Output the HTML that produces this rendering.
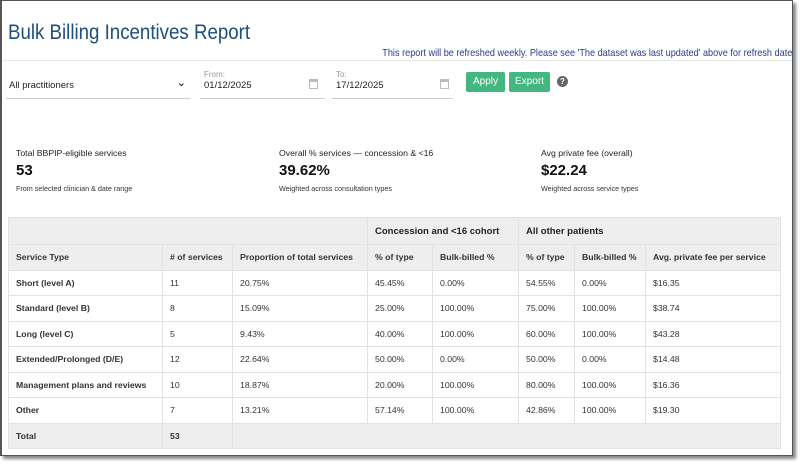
<!DOCTYPE html>
<html><head><meta charset="utf-8"><style>
body{margin:0;width:800px;height:464px;background:#fff;font-family:"Liberation Sans",sans-serif;position:relative;overflow:hidden}
.frame{position:absolute;left:0;top:0;width:790px;height:454px;border:1px solid #555;border-left:2px solid #555;box-shadow:3px 3px 3px #888;background:#fff}
.abs{position:absolute;white-space:nowrap}
h1{position:absolute;left:8px;top:21px;margin:0;font-weight:normal;font-size:21px;color:#1c4f7c;transform:scaleX(0.89);transform-origin:left}
.note{right:8px;top:47px;font-size:10.5px;color:#2b3a8a;transform:scaleX(0.87);transform-origin:right}
.hr{position:absolute;left:2px;top:60px;width:790px;height:1px;background:#e6e6e6}
.field{position:absolute;border-bottom:1px solid #ccc;height:28px}
.lbl{font-size:8px;color:#999}
.btn{position:absolute;top:72px;height:20px;background:#43b77f;color:#fff;font-size:10px;line-height:20px;text-align:center;border-radius:2px}
.cal{position:absolute;width:9px;height:10px;border:1px solid #bbb;border-top:3px solid #bbb;box-sizing:border-box}
table{position:absolute;left:8px;top:217px;border-collapse:collapse;font-size:8.7px;color:#333;table-layout:fixed}
td{border:1px solid #e2e2e2;padding:0 0 0 7px;height:24.5px;white-space:nowrap}
tr.g td{background:#eeeeee}
td.b{font-weight:bold}
.s1{font-size:8.7px;color:#222}.s2{font-size:15px;font-weight:bold;color:#111}.s3{font-size:7.2px;color:#333}
</style></head><body>
<div class="frame"></div>
<h1>Bulk Billing Incentives Report</h1>
<div class="abs note">This report will be refreshed weekly. Please see 'The dataset was last updated' above for refresh date</div>
<div class="hr"></div>
<div class="field" style="left:6px;top:70px;width:184px"><div class="abs" style="left:3px;top:10px;font-size:9.5px;color:#222">All practitioners</div><div class="abs" style="right:4px;top:6px;font-size:11px">&#8964;</div></div>
<div class="field" style="left:200px;top:70px;width:125px"><div class="abs lbl" style="left:4px;top:0">From:</div><div class="abs" style="left:4px;top:10px;font-size:9.5px;color:#222">01/12/2025</div><div class="cal" style="left:109px;top:9px"></div></div>
<div class="field" style="left:332px;top:70px;width:121px"><div class="abs lbl" style="left:4px;top:0">To:</div><div class="abs" style="left:4px;top:10px;font-size:9.5px;color:#222">17/12/2025</div><div class="cal" style="left:108px;top:9px"></div></div>
<div class="btn" style="left:466px;width:39px">Apply</div>
<div class="btn" style="left:509px;width:41px">Export</div>
<div class="abs" style="left:557px;top:76px;width:11px;height:11px;border-radius:50%;background:#666;color:#fff;font-size:8px;text-align:center;line-height:11px;font-weight:bold">?</div>
<div class="abs" style="left:16px;top:148px"><div class="s1">Total BBPIP-eligible services</div><div class="s2" style="margin-top:4px">53</div><div class="s3" style="margin-top:5px">From selected clinician &amp; date range</div></div>
<div class="abs" style="left:279px;top:148px"><div class="s1">Overall % services — concession &amp; &lt;16</div><div class="s2" style="margin-top:4px">39.62%</div><div class="s3" style="margin-top:5px">Weighted across consultation types</div></div>
<div class="abs" style="left:541px;top:148px"><div class="s1">Avg private fee (overall)</div><div class="s2" style="margin-top:4px">$22.24</div><div class="s3" style="margin-top:5px">Weighted across service types</div></div>
<table>
<colgroup><col style="width:154px"><col style="width:70px"><col style="width:135px"><col style="width:65px"><col style="width:86px"><col style="width:56px"><col style="width:71px"><col style="width:135px"></colgroup>
<tr class="g"><td colspan="3" style="height:26px"></td><td colspan="2" class="b" style="font-size:9.5px;color:#222">Concession and &lt;16 cohort</td><td colspan="3" class="b" style="font-size:9.5px;color:#222">All other patients</td></tr>
<tr class="g"><td class="b">Service Type</td><td class="b"># of services</td><td class="b">Proportion of total services</td><td class="b">% of type</td><td class="b">Bulk-billed %</td><td class="b">% of type</td><td class="b">Bulk-billed %</td><td class="b">Avg. private fee per service</td></tr>
<tr><td class="b">Short (level A)</td><td>11</td><td>20.75%</td><td>45.45%</td><td>0.00%</td><td>54.55%</td><td>0.00%</td><td>$16.35</td></tr>
<tr><td class="b">Standard (level B)</td><td>8</td><td>15.09%</td><td>25.00%</td><td>100.00%</td><td>75.00%</td><td>100.00%</td><td>$38.74</td></tr>
<tr><td class="b">Long (level C)</td><td>5</td><td>9.43%</td><td>40.00%</td><td>100.00%</td><td>60.00%</td><td>100.00%</td><td>$43.28</td></tr>
<tr><td class="b">Extended/Prolonged (D/E)</td><td>12</td><td>22.64%</td><td>50.00%</td><td>0.00%</td><td>50.00%</td><td>0.00%</td><td>$14.48</td></tr>
<tr><td class="b">Management plans and reviews</td><td>10</td><td>18.87%</td><td>20.00%</td><td>100.00%</td><td>80.00%</td><td>100.00%</td><td>$16.36</td></tr>
<tr><td class="b">Other</td><td>7</td><td>13.21%</td><td>57.14%</td><td>100.00%</td><td>42.86%</td><td>100.00%</td><td>$19.30</td></tr>
<tr class="g"><td class="b">Total</td><td class="b">53</td><td colspan="6"></td></tr>
</table>
</body></html>
